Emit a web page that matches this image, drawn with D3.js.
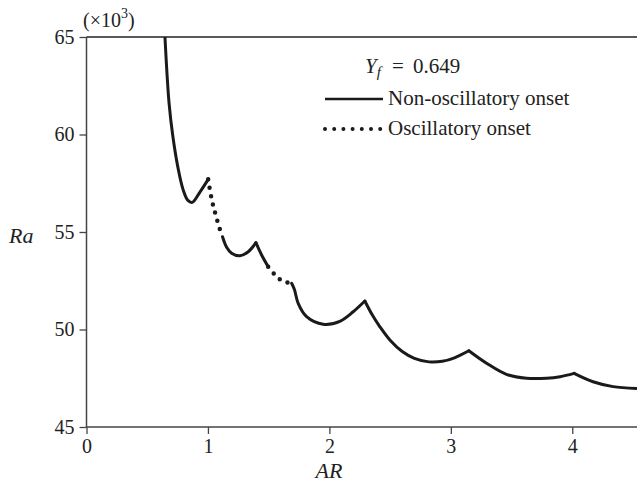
<!DOCTYPE html>
<html>
<head>
<meta charset="utf-8">
<script src="https://cdn.jsdelivr.net/npm/d3@7"></script>
<style>
  html, body { margin: 0; padding: 0; background: #fff; }
  svg { display: block; }
</style>
</head>
<body>
<svg id="chart" width="637" height="487"></svg>
<script>
// ---- data (AR, Ra x 10^3) ----
const xTicks = [0, 1, 2, 3, 4];
const yTicks = [45, 50, 55, 60, 65];
const legendTitle = "0.649";
const legendLabels = ["Non-oscillatory onset", "Oscillatory onset"];

// non-oscillatory (solid) pieces, split at cusps
const solidA = [[0.646,65.0],[0.662,63.2],[0.680,61.6],[0.709,60.0],[0.753,58.3],[0.794,57.2],[0.835,56.62],[0.871,56.52],[0.934,57.05],[1.002,57.70]];
const solidC1 = [[1.12,54.76],[1.154,54.22],[1.195,53.91],[1.263,53.78],[1.332,53.99],[1.395,54.45]];
const solidC2 = [[1.395,54.45],[1.442,53.82],[1.496,53.22]];
const solidE1 = [[1.689,52.37],[1.712,52.05],[1.743,51.34],[1.812,50.66],[1.949,50.27],[2.086,50.42],[2.196,50.91],[2.292,51.46]];
const solidE2 = [[2.292,51.46],[2.350,50.78],[2.416,50.14],[2.500,49.45],[2.600,48.87],[2.700,48.52],[2.820,48.34],[2.930,48.37],[3.030,48.55],[3.148,48.91]];
const solidE3 = [[3.148,48.91],[3.294,48.27],[3.458,47.70],[3.623,47.50],[3.788,47.50],[3.900,47.58],[4.015,47.75]];
const solidE4 = [[4.015,47.75],[4.171,47.32],[4.336,47.07],[4.528,46.98]];
// oscillatory (dotted) pieces
const dottedB = [[1.002,57.70],[1.030,56.70],[1.06,55.96],[1.10,55.10],[1.12,54.76]];
const dottedD = [[1.496,53.22],[1.554,52.79],[1.615,52.49],[1.689,52.37]];

const solidPieces = [solidA, solidC1, solidC2, solidE1, solidE2, solidE3, solidE4];
const dottedPieces = [dottedB, dottedD];

// ---- layout ----
const svg = d3.select("#chart");
const mLeft = 86.5, mRight = 633, mTop = 37, mBottom = 427;
const x = d3.scaleLinear().domain([0, 4.5]).range([mLeft, mRight]);
const y = d3.scaleLinear().domain([45, 65]).range([mBottom, mTop]);
const serif = "'Liberation Serif', 'Times New Roman', serif";
const axisColor = "#444";

svg.append("defs").append("clipPath").attr("id", "plotclip")
  .append("rect").attr("x", mLeft).attr("y", mTop).attr("width", 637 - mLeft).attr("height", mBottom - mTop);

// axes
const gx = svg.append("g").attr("transform", `translate(0,${mBottom})`)
  .call(d3.axisBottom(x).tickValues(xTicks).tickSize(7).tickPadding(5).tickFormat(d3.format("d")));
const gy = svg.append("g").attr("transform", `translate(${mLeft},0)`)
  .call(d3.axisLeft(y).tickValues(yTicks).tickSize(7).tickPadding(5).tickFormat(d3.format("d")));
[gx, gy].forEach(g => {
  g.select(".domain").remove();
  g.selectAll(".tick line").attr("stroke", axisColor).attr("stroke-width", 1.3);
  g.selectAll(".tick text").attr("font-family", serif).attr("font-size", 20).attr("fill", "#222");
});
// axis frame lines
svg.append("line").attr("x1", mLeft).attr("x2", 637).attr("y1", mBottom).attr("y2", mBottom)
  .attr("stroke", axisColor).attr("stroke-width", 1.5);
svg.append("line").attr("x1", mLeft).attr("x2", mLeft).attr("y1", mTop).attr("y2", mBottom)
  .attr("stroke", axisColor).attr("stroke-width", 1.5);
svg.append("line").attr("x1", mLeft).attr("x2", 637).attr("y1", mTop).attr("y2", mTop)
  .attr("stroke", "#222").attr("stroke-width", 1.5);

// multiplier
const mult = svg.append("text").attr("x", 83).attr("y", 27)
  .attr("font-family", serif).attr("font-size", 20).attr("fill", "#222");
mult.append("tspan").text("(\u00D710");
mult.append("tspan").attr("font-size", 14).attr("dy", -9).text("3");
mult.append("tspan").attr("dy", 9).text(")");

// axis titles
svg.append("text").attr("x", 9).attr("y", 243)
  .attr("font-family", serif).attr("font-size", 22).attr("font-style", "italic").attr("fill", "#222").text("Ra");
svg.append("text").attr("x", 329).attr("y", 478).attr("text-anchor", "middle")
  .attr("font-family", serif).attr("font-size", 22).attr("font-style", "italic").attr("fill", "#222").text("AR");

// curves
const line = d3.line().x(d => x(d[0])).y(d => y(d[1])).curve(d3.curveCatmullRom.alpha(0.5));
const plot = svg.append("g").attr("clip-path", "url(#plotclip)");
plot.selectAll("path.solid").data(solidPieces).join("path")
  .attr("class", "solid").attr("d", line)
  .attr("fill", "none").attr("stroke", "#1a1a1a").attr("stroke-width", 3)
  .attr("stroke-linecap", "round").attr("stroke-linejoin", "round");
plot.selectAll("path.dotted").data(dottedPieces).join("path")
  .attr("class", "dotted").attr("d", line)
  .attr("fill", "none").attr("stroke", "#1a1a1a").attr("stroke-width", 4.5)
  .attr("stroke-linecap", "round").attr("stroke-dasharray", "0 8.5");

// legend
const lg = svg.append("g").attr("font-family", serif).attr("font-size", 21).attr("fill", "#222");
const t = lg.append("text").attr("y", 73);
t.append("tspan").attr("x", 365).attr("font-style", "italic").text("Y");
t.append("tspan").attr("font-style", "italic").attr("font-size", 15).attr("dy", 4).text("f");
t.append("tspan").attr("x", 392).attr("dy", -4).text("=");
t.append("tspan").attr("x", 413).text(legendTitle);

lg.append("line").attr("x1", 325).attr("x2", 383).attr("y1", 99).attr("y2", 99)
  .attr("stroke", "#1a1a1a").attr("stroke-width", 2.6);
lg.append("line").attr("x1", 325).attr("x2", 381).attr("y1", 129).attr("y2", 129)
  .attr("stroke", "#1a1a1a").attr("stroke-width", 4).attr("stroke-linecap", "round")
  .attr("stroke-dasharray", "0 9.2");
lg.selectAll("text.lab").data(legendLabels).join("text").attr("class", "lab")
  .attr("x", 388).attr("y", (d, i) => 105 + i * 30).text(d => d);
</script>
</body>
</html>
